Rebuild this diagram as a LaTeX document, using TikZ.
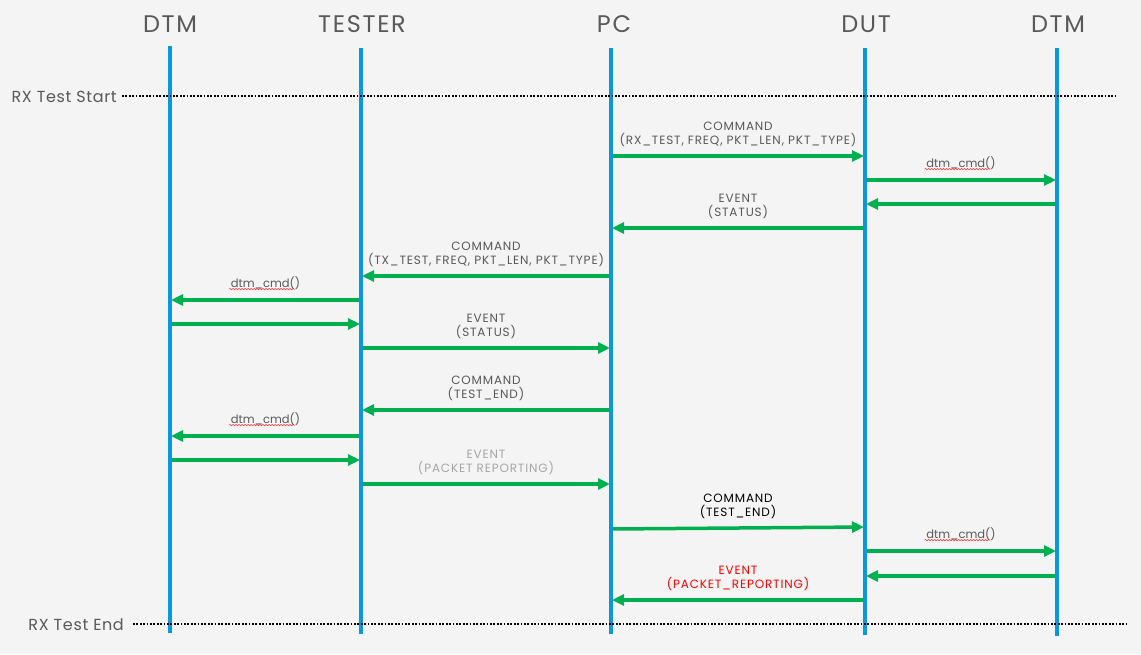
\documentclass[tikz,border=0pt]{standalone}
\usepackage{fontspec}
\setmainfont{Poppins}
\usetikzlibrary{arrows.meta,decorations.pathmorphing}
\definecolor{bg}{HTML}{F4F4F4}
\definecolor{life}{HTML}{0A98DA}
\definecolor{msgc}{HTML}{00B050}
\definecolor{txt}{HTML}{595959}
\definecolor{ltxt}{HTML}{A6A6A6}
\definecolor{evred}{HTML}{FF0000}
\begin{document}
\begin{tikzpicture}[x=1pt,y=-1pt,
  lifeline/.style={draw=life,line width=4pt},
  head/.style={font=\fontsize{24}{28}\selectfont\addfontfeature{LetterSpace=7},text=txt,inner sep=0},
  msg/.style={draw=msgc,line width=3.5pt,-{Triangle[length=12pt,width=11pt]},shorten >=1pt},
  lbl/.style={font=\fontsize{12}{14}\selectfont\addfontfeature{LetterSpace=7},text=txt,align=center,inner sep=0,above=8pt},
  cmdlbl/.style={font=\fontsize{11.5}{14}\selectfont,text=txt,inner sep=0,above=9pt},
  phase/.style={draw=black,line width=1.8pt,dash pattern=on 1.8pt off 1.6pt},
  phaselbl/.style={font=\fontsize{16}{20}\selectfont\addfontfeature{LetterSpace=4},text=txt,inner sep=0,anchor=east},
  wavy/.style={draw=red!85,line width=0.5pt,decorate,decoration={snake,amplitude=0.7pt,segment length=3pt}}
]
\useasboundingbox (0,0) rectangle (1141,654);
\fill[bg] (0,0) rectangle (1141,654);

% headers
\node[head] (hA) at (170,24) {DTM};
\node[head] (hT) at (362,24) {TESTER};
\node[head] (hP) at (614,24) {PC};
\node[head] (hU) at (866,24) {DUT};
\node[head] (hB) at (1058,24) {DTM};

% lifeline ends
\coordinate (tA) at (170,46);  \coordinate (bA) at (170,633);
\coordinate (tT) at (361,48);  \coordinate (bT) at (361,634);
\coordinate (tP) at (611,48);  \coordinate (bP) at (611,634);
\coordinate (tU) at (865,48);  \coordinate (bU) at (865,635);
\coordinate (tB) at (1057,48); \coordinate (bB) at (1057,636);

% message endpoints
\coordinate (m1a) at (611,156);  \coordinate (m1b) at (865,156);
\coordinate (m2a) at (865,180);  \coordinate (m2b) at (1057,180);
\coordinate (m3a) at (1057,204); \coordinate (m3b) at (865,204);
\coordinate (m4a) at (865,228);  \coordinate (m4b) at (611,228);
\coordinate (m5a) at (611,276);  \coordinate (m5b) at (361,276);
\coordinate (m6a) at (361,300);  \coordinate (m6b) at (170,300);
\coordinate (m7a) at (170,324);  \coordinate (m7b) at (361,324);
\coordinate (m8a) at (361,348);  \coordinate (m8b) at (611,348);
\coordinate (m9a) at (611,410);  \coordinate (m9b) at (361,410);
\coordinate (m10a) at (361,436); \coordinate (m10b) at (170,436);
\coordinate (m11a) at (170,460); \coordinate (m11b) at (361,460);
\coordinate (m12a) at (361,484); \coordinate (m12b) at (611,484);
\coordinate (m13a) at (611,529); \coordinate (m13b) at (865,527);
\coordinate (m14a) at (865,551); \coordinate (m14b) at (1057,551);
\coordinate (m15a) at (1057,576);\coordinate (m15b) at (865,576);
\coordinate (m16a) at (865,600); \coordinate (m16b) at (611,600);

% messages
\draw[msg] (m1a) -- (m1b) node[lbl,midway] (l1) {COMMAND\\(RX\_TEST, FREQ, PKT\_LEN, PKT\_TYPE)};
\draw[msg] (m2a) -- (m2b) node[cmdlbl,midway] (l2) {dtm\_cmd()};
\draw[msg] (m3a) -- (m3b);
\draw[msg] (m4a) -- (m4b) node[lbl,midway] (l4) {EVENT\\(STATUS)};
\draw[msg] (m5a) -- (m5b) node[lbl,midway] (l5) {COMMAND\\(TX\_TEST, FREQ, PKT\_LEN, PKT\_TYPE)};
\draw[msg] (m6a) -- (m6b) node[cmdlbl,midway] (l6) {dtm\_cmd()};
\draw[msg] (m7a) -- (m7b);
\draw[msg] (m8a) -- (m8b) node[lbl,midway] (l8) {EVENT\\(STATUS)};
\draw[msg] (m9a) -- (m9b) node[lbl,midway] (l9) {COMMAND\\(TEST\_END)};
\draw[msg] (m10a) -- (m10b) node[cmdlbl,midway] (l10) {dtm\_cmd()};
\draw[msg] (m11a) -- (m11b);
\draw[msg] (m12a) -- (m12b) node[lbl,midway,text=ltxt] (l12) {EVENT\\(PACKET REPORTING)};
\draw[msg] (m13a) -- (m13b) node[lbl,midway,text=black] (l13) {COMMAND\\(TEST\_END)};
\draw[msg] (m14a) -- (m14b) node[cmdlbl,midway] (l14) {dtm\_cmd()};
\draw[msg] (m15a) -- (m15b);
\draw[msg] (m16a) -- (m16b) node[lbl,midway,text=evred] (l16) {EVENT\\(PACKET\_REPORTING)};

% spell-check underlines
\foreach \n in {l2,l6,l10,l14}
  \draw[wavy] ([yshift=-2pt]\n.base west) -- ([xshift=-7pt,yshift=-2pt]\n.base east);

% lifelines
\draw[lifeline] (tA) -- (bA);
\draw[lifeline] (tT) -- (bT);
\draw[lifeline] (tP) -- (bP);
\draw[lifeline] (tU) -- (bU);
\draw[lifeline] (tB) -- (bB);

% phase markers
\coordinate (s1) at (122,96);  \coordinate (s2) at (1116,96);
\coordinate (e1) at (133,624); \coordinate (e2) at (1127,624);
\draw[phase] (s1) -- (s2);
\draw[phase] (e1) -- (e2);
\node[phaselbl] (ps) at ([xshift=-5pt,yshift=-1pt]s1) {RX Test Start};
\node[phaselbl] (pe) at ([xshift=-9pt,yshift=-1pt]e1) {RX Test End};
\end{tikzpicture}
\end{document}
